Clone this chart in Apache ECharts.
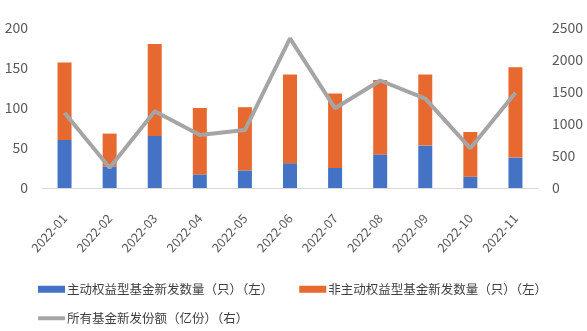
<!DOCTYPE html>
<html><head><meta charset="utf-8">
<script src="https://cdn.jsdelivr.net/npm/echarts@6/dist/echarts.min.js"></script>
<style>html,body{margin:0;padding:0;background:#fff}#c{width:587px;height:331px}</style>
</head><body><div id="c"></div>
<script>
const categories = ['2022-01','2022-02','2022-03','2022-04','2022-05','2022-06','2022-07','2022-08','2022-09','2022-10','2022-11'];
const activeEquity = [60, 27, 65, 17, 22, 31, 25, 42, 53, 14, 38];
const nonActiveEquity = [97, 41, 115, 83, 79, 111, 93, 93, 89, 56, 113];
const totalShares = [1176, 317, 1198, 828, 906, 2339, 1245, 1680, 1396, 620, 1490];
const seriesNames = ['主动权益型基金新发数量（只）（左）','非主动权益型基金新发数量（只）（左）','所有基金新发份额（亿份）（右）'];

const font = '"Noto Sans CJK SC", "Noto Sans", sans-serif';
const chart = echarts.init(document.getElementById('c'));
chart.setOption({
  animation: false,
  textStyle: {fontFamily: font},
  grid: {left: 42, right: 49, top: 28, bottom: 143},
  legend: [{
    data: [seriesNames[0], seriesNames[1]],
    left: 33, top: 278, itemWidth: 27, itemHeight: 7, itemGap: 26,
    icon: 'rect',
    textStyle: {fontSize: 12.5, color: '#404040', fontFamily: font, padding: [0,0,0,-3]}
  },{
    data: [seriesNames[2]],
    left: 33, top: 307, itemWidth: 27, itemHeight: 4,
    icon: 'roundRect',
    textStyle: {fontSize: 12.5, color: '#404040', fontFamily: font, padding: [0,0,0,-3]}
  }],
  xAxis: {
    type: 'category', data: categories,
    axisLine: {lineStyle: {color: '#d9d9d9', width: 1}},
    axisTick: {show: false},
    axisLabel: {rotate: 48, color: '#595959', fontSize: 12.5, margin: 28, interval: 0}
  },
  yAxis: [{
    type: 'value', min: 0, max: 200, interval: 50,
    splitLine: {show: false}, axisLine: {show: false}, axisTick: {show: false},
    axisLabel: {color: '#595959', fontSize: 14, margin: 14}
  },{
    type: 'value', min: 0, max: 2500, interval: 500,
    splitLine: {show: false}, axisLine: {show: false}, axisTick: {show: false},
    axisLabel: {color: '#595959', fontSize: 14, margin: 14, formatter: v => String(v)}
  }],
  series: [{
    name: seriesNames[0], type: 'bar', stack: 'n', data: activeEquity,
    barWidth: 14, itemStyle: {color: '#4472C4'}
  },{
    name: seriesNames[1], type: 'bar', stack: 'n', data: nonActiveEquity,
    barWidth: 14, itemStyle: {color: '#E8692F'}
  },{
    name: seriesNames[2], type: 'line', yAxisIndex: 1, data: totalShares,
    symbol: 'none', lineStyle: {color: '#A5A5A5', width: 4},
    itemStyle: {color: '#A5A5A5'}
  }]
});
</script></body></html>
